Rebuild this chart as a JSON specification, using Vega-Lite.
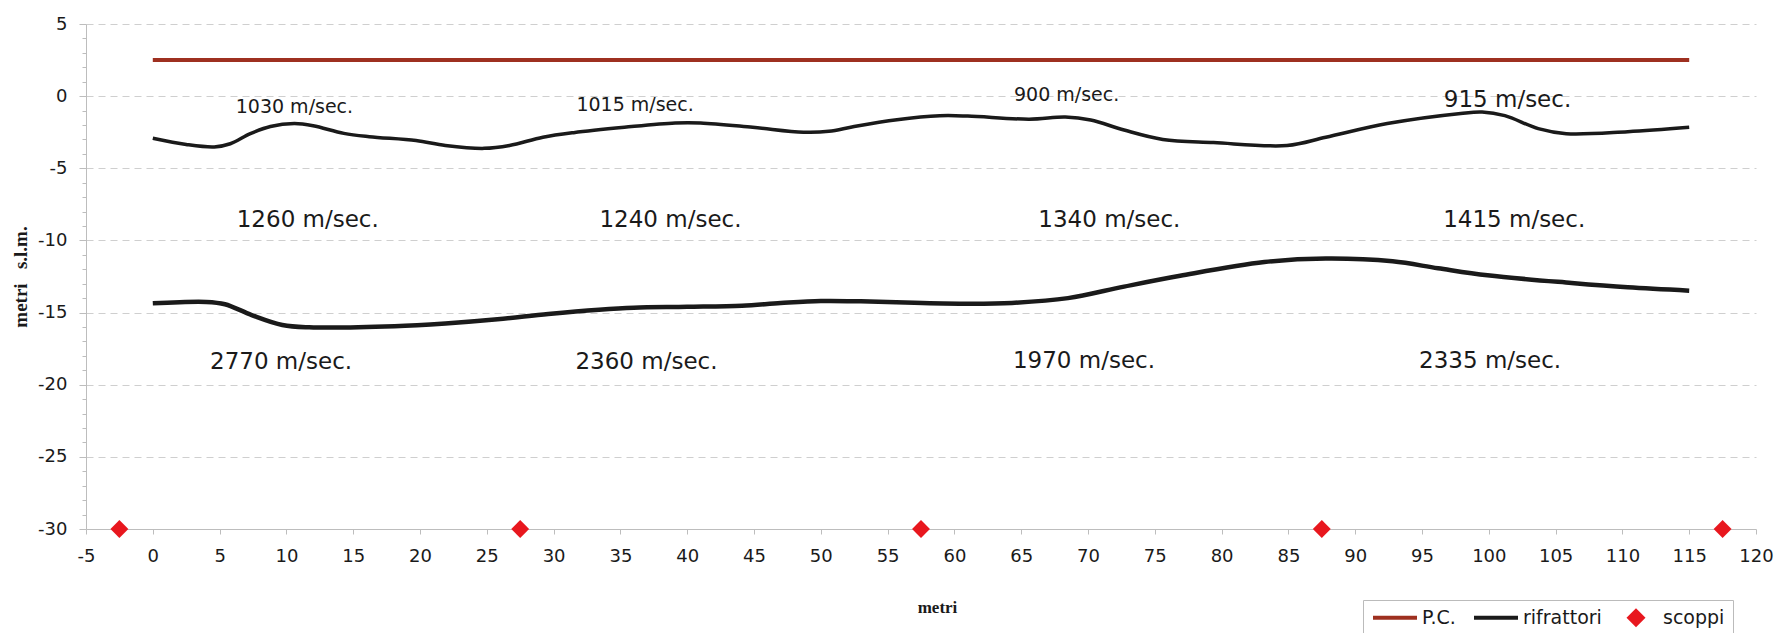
{
  "$schema": "https://vega.github.io/schema/vega-lite/v6.json",
  "width": 1670,
  "height": 505,
  "autosize": {"type": "none"},
  "padding": {"left": 86, "top": 24, "right": 22, "bottom": 104},
  "background": "white",
  "config": {
    "view": {"stroke": null},
    "axis": {"domainColor": "#bdbdbd", "tickColor": "#bdbdbd", "labelColor": "#1a1a1a", "titleColor": "#1a1a1a"}
  },
  "datasets": {
    "pc": [
      {"x": 0, "y": 2.5, "serie": "P.C."},
      {"x": 115, "y": 2.5, "serie": "P.C."}
    ],
    "rif_sup": [
      {"x": 0, "y": -2.92, "serie": "rifrattori"},
      {"x": 2.5, "y": -3.35, "serie": "rifrattori"},
      {"x": 4.6, "y": -3.52, "serie": "rifrattori"},
      {"x": 5.8, "y": -3.3, "serie": "rifrattori"},
      {"x": 7.3, "y": -2.6, "serie": "rifrattori"},
      {"x": 8.8, "y": -2.1, "serie": "rifrattori"},
      {"x": 10.6, "y": -1.9, "serie": "rifrattori"},
      {"x": 12.0, "y": -2.05, "serie": "rifrattori"},
      {"x": 14.3, "y": -2.58, "serie": "rifrattori"},
      {"x": 16.2, "y": -2.81, "serie": "rifrattori"},
      {"x": 19.7, "y": -3.08, "serie": "rifrattori"},
      {"x": 21.9, "y": -3.42, "serie": "rifrattori"},
      {"x": 24.8, "y": -3.62, "serie": "rifrattori"},
      {"x": 26.7, "y": -3.42, "serie": "rifrattori"},
      {"x": 29.2, "y": -2.85, "serie": "rifrattori"},
      {"x": 31.5, "y": -2.53, "serie": "rifrattori"},
      {"x": 35.3, "y": -2.16, "serie": "rifrattori"},
      {"x": 39.1, "y": -1.86, "serie": "rifrattori"},
      {"x": 41.0, "y": -1.86, "serie": "rifrattori"},
      {"x": 44.9, "y": -2.16, "serie": "rifrattori"},
      {"x": 48.7, "y": -2.5, "serie": "rifrattori"},
      {"x": 50.6, "y": -2.44, "serie": "rifrattori"},
      {"x": 52.5, "y": -2.1, "serie": "rifrattori"},
      {"x": 55.7, "y": -1.63, "serie": "rifrattori"},
      {"x": 58.9, "y": -1.36, "serie": "rifrattori"},
      {"x": 61.0, "y": -1.38, "serie": "rifrattori"},
      {"x": 65.6, "y": -1.6, "serie": "rifrattori"},
      {"x": 68.3, "y": -1.45, "serie": "rifrattori"},
      {"x": 70.2, "y": -1.65, "serie": "rifrattori"},
      {"x": 72.7, "y": -2.35, "serie": "rifrattori"},
      {"x": 75.6, "y": -3.0, "serie": "rifrattori"},
      {"x": 79.4, "y": -3.22, "serie": "rifrattori"},
      {"x": 84.9, "y": -3.42, "serie": "rifrattori"},
      {"x": 87.8, "y": -2.85, "serie": "rifrattori"},
      {"x": 92.4, "y": -1.9, "serie": "rifrattori"},
      {"x": 97.9, "y": -1.2, "serie": "rifrattori"},
      {"x": 99.5, "y": -1.1, "serie": "rifrattori"},
      {"x": 101.2, "y": -1.35, "serie": "rifrattori"},
      {"x": 103.7, "y": -2.25, "serie": "rifrattori"},
      {"x": 105.8, "y": -2.6, "serie": "rifrattori"},
      {"x": 110.4, "y": -2.46, "serie": "rifrattori"},
      {"x": 115, "y": -2.16, "serie": "rifrattori"}
    ],
    "rif_inf": [
      {"x": 0, "y": -14.36, "serie": "rifrattori"},
      {"x": 4.0, "y": -14.26, "serie": "rifrattori"},
      {"x": 5.4, "y": -14.42, "serie": "rifrattori"},
      {"x": 7.4, "y": -15.17, "serie": "rifrattori"},
      {"x": 9.7, "y": -15.86, "serie": "rifrattori"},
      {"x": 11.7, "y": -16.02, "serie": "rifrattori"},
      {"x": 18.1, "y": -15.95, "serie": "rifrattori"},
      {"x": 21.9, "y": -15.76, "serie": "rifrattori"},
      {"x": 25.8, "y": -15.47, "serie": "rifrattori"},
      {"x": 29.6, "y": -15.1, "serie": "rifrattori"},
      {"x": 33.4, "y": -14.8, "serie": "rifrattori"},
      {"x": 36.0, "y": -14.66, "serie": "rifrattori"},
      {"x": 40.0, "y": -14.6, "serie": "rifrattori"},
      {"x": 44.1, "y": -14.52, "serie": "rifrattori"},
      {"x": 47.0, "y": -14.34, "serie": "rifrattori"},
      {"x": 50.0, "y": -14.2, "serie": "rifrattori"},
      {"x": 53.0, "y": -14.22, "serie": "rifrattori"},
      {"x": 57.0, "y": -14.32, "serie": "rifrattori"},
      {"x": 61.0, "y": -14.38, "serie": "rifrattori"},
      {"x": 64.3, "y": -14.33, "serie": "rifrattori"},
      {"x": 68.5, "y": -14.0, "serie": "rifrattori"},
      {"x": 72.7, "y": -13.2, "serie": "rifrattori"},
      {"x": 76.9, "y": -12.45, "serie": "rifrattori"},
      {"x": 83.2, "y": -11.5, "serie": "rifrattori"},
      {"x": 87.8, "y": -11.26, "serie": "rifrattori"},
      {"x": 92.8, "y": -11.45, "serie": "rifrattori"},
      {"x": 96.2, "y": -11.93, "serie": "rifrattori"},
      {"x": 99.9, "y": -12.42, "serie": "rifrattori"},
      {"x": 106.2, "y": -12.95, "serie": "rifrattori"},
      {"x": 110.4, "y": -13.25, "serie": "rifrattori"},
      {"x": 115, "y": -13.48, "serie": "rifrattori"}
    ],
    "scoppi": [
      {"x": -2.5, "y": -30, "serie": "scoppi"},
      {"x": 27.5, "y": -30, "serie": "scoppi"},
      {"x": 57.5, "y": -30, "serie": "scoppi"},
      {"x": 87.5, "y": -30, "serie": "scoppi"},
      {"x": 117.5, "y": -30, "serie": "scoppi"}
    ],
    "etichette_piccole": [
      {"x": 10.6, "y": -0.73, "testo": "1030 m/sec."},
      {"x": 36.1, "y": -0.61, "testo": "1015 m/sec."},
      {"x": 68.4, "y": 0.08, "testo": "900 m/sec."}
    ],
    "etichette": [
      {"x": 101.4, "y": -0.27, "testo": "915 m/sec."},
      {"x": 11.6, "y": -8.58, "testo": "1260 m/sec."},
      {"x": 38.75, "y": -8.58, "testo": "1240 m/sec."},
      {"x": 71.6, "y": -8.58, "testo": "1340 m/sec."},
      {"x": 101.9, "y": -8.58, "testo": "1415 m/sec."},
      {"x": 9.6, "y": -18.4, "testo": "2770 m/sec."},
      {"x": 36.95, "y": -18.4, "testo": "2360 m/sec."},
      {"x": 69.7, "y": -18.35, "testo": "1970 m/sec."},
      {"x": 100.1, "y": -18.35, "testo": "2335 m/sec."}
    ]
  },
  "encoding": {
    "x": {
      "field": "x", "type": "quantitative",
      "scale": {"domain": [-5, 120], "nice": false, "zero": false},
      "axis": {
        "title": "metri",
        "titleFont": "Liberation Serif", "titleFontWeight": "bold", "titleFontSize": 17,
        "titleX": 851, "titleY": 78, "titleBaseline": "middle",
        "values": [-5, 0, 5, 10, 15, 20, 25, 30, 35, 40, 45, 50, 55, 60, 65, 70, 75, 80, 85, 90, 95, 100, 105, 110, 115, 120],
        "labelExpr": "'' + datum.value",
        "grid": false, "tickSize": 5, "labelPadding": 22,
        "labelFont": "DejaVu Sans", "labelFontSize": 18, "labelBaseline": "middle",
        "labelFlush": false, "labelOverlap": false
      }
    },
    "y": {
      "field": "y", "type": "quantitative",
      "scale": {"domain": [-30, 5], "nice": false, "zero": false},
      "axis": {
        "title": "metri\u00a0\u00a0\u00a0s.l.m.",
        "titleFont": "Liberation Serif", "titleFontWeight": "bold", "titleFontSize": 19,
        "titleX": -66, "titleBaseline": "middle",
        "values": [-30, -29, -28, -27, -26, -25, -24, -23, -22, -21, -20, -19, -18, -17, -16, -15, -14, -13, -12, -11, -10, -9, -8, -7, -6, -5, -4, -3, -2, -1, 0, 1, 2, 3, 4, 5],
        "labelExpr": "datum.value % 5 === 0 ? '' + datum.value : ''",
        "grid": true,
        "gridColor": {"condition": {"test": "datum.value % 5 === 0 && datum.value > -30", "value": "#cfcfcf"}, "value": "transparent"},
        "gridDash": [7, 5],
        "tickSize": {"condition": {"test": "datum.value % 5 === 0", "value": 7}, "value": 4},
        "labelPadding": 12,
        "labelFont": "DejaVu Sans", "labelFontSize": 18,
        "labelOverlap": false, "labelFlush": false
      }
    }
  },
  "layer": [
    {
      "data": {"name": "pc"},
      "mark": {"type": "line", "strokeWidth": 4},
      "encoding": {
        "color": {
          "field": "serie", "type": "nominal",
          "scale": {"domain": ["P.C.", "rifrattori", "scoppi"], "range": ["#9E3020", "#1a1a1a", "#E8171E"]},
          "legend": {
            "title": null, "orient": "none", "legendX": 1277, "legendY": 576,
            "direction": "horizontal",
            "labelFont": "DejaVu Sans", "labelFontSize": 19, "labelColor": "#1a1a1a",
            "symbolType": "stroke", "symbolSize": 400, "symbolStrokeWidth": 4,
            "columnPadding": 10, "labelOffset": 32, "padding": 8,
            "strokeColor": "#bbbbbb", "fillColor": "white",
            "encode": {
              "symbols": {
                "update": {
                  "x": {"value": 24},
                  "shape": {"signal": "datum.value === 'scoppi' ? 'diamond' : 'stroke'"},
                  "size": {"signal": "datum.value === 'scoppi' ? 360 : 1936"},
                  "fill": {"signal": "datum.value === 'scoppi' ? '#E8171E' : 'transparent'"},
                  "stroke": {"signal": "datum.value === 'P.C.' ? '#9E3020' : (datum.value === 'rifrattori' ? '#111111' : 'transparent')"},
                  "strokeWidth": {"signal": "datum.value === 'scoppi' ? 0 : 4"},
                  "opacity": {"value": 1}
                }
              }
            }
          }
        }
      }
    },
    {
      "data": {"name": "rif_sup"},
      "mark": {"type": "line", "strokeWidth": 3.5, "interpolate": "catmull-rom"},
      "encoding": {"color": {"field": "serie", "type": "nominal"}}
    },
    {
      "data": {"name": "rif_inf"},
      "mark": {"type": "line", "strokeWidth": 4.5, "interpolate": "catmull-rom"},
      "encoding": {"color": {"field": "serie", "type": "nominal"}}
    },
    {
      "data": {"name": "scoppi"},
      "mark": {"type": "point", "shape": "diamond", "filled": true, "size": 320, "opacity": 1},
      "encoding": {"color": {"field": "serie", "type": "nominal"}}
    },
    {
      "data": {"name": "etichette_piccole"},
      "mark": {"type": "text", "font": "DejaVu Sans", "fontSize": 19, "color": "#1a1a1a", "align": "center", "baseline": "middle"},
      "encoding": {"text": {"field": "testo"}}
    },
    {
      "data": {"name": "etichette"},
      "mark": {"type": "text", "font": "DejaVu Sans", "fontSize": 23, "color": "#1a1a1a", "align": "center", "baseline": "middle"},
      "encoding": {"text": {"field": "testo"}}
    }
  ]
}
